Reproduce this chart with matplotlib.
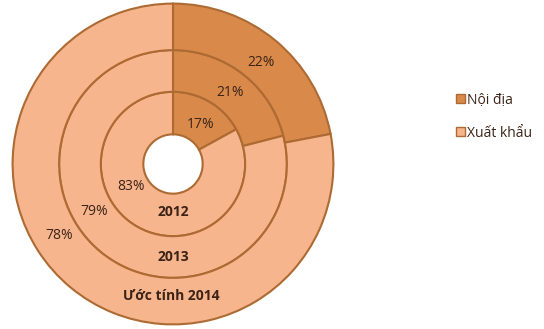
import numpy as np
import matplotlib.pyplot as plt
from matplotlib.patches import Patch

plt.rcParams['font.family'] = ['Open Sans', 'DejaVu Sans']

categories = ['Nội địa', 'Xuất khẩu']
years = ['2012', '2013', 'Ước tính 2014']
noi_dia = [17, 21, 22]
xuat_khau = [83, 79, 78]

dark = '#d98a4b'
light = '#f7b58e'
edge = '#ad6a32'
txt = '#3b2317'

fig = plt.figure(figsize=(5.44, 3.29), dpi=100)
# pie centre ~ (173, 164) px, outer radius ~ 162 px
cx, cy, R = 173, 164, 162
ax = fig.add_axes([(cx - R) / 544, (329 - cy - R) / 329, 2 * R / 544, 2 * R / 329])

radii = [0.45, 0.71, 1.0]
inner = [0.185, 0.45, 0.71]
for i in range(3):
    ax.pie([noi_dia[i], xuat_khau[i]], radius=radii[i], startangle=90, counterclock=False,
           colors=[dark, light],
           wedgeprops=dict(width=radii[i] - inner[i], edgecolor=edge, linewidth=1.5))

ax.set_xlim(-1.01, 1.01)
ax.set_ylim(-1.01, 1.01)
ax.set_aspect('auto')

# label positions per ring (radius, angle)
lab_r = [0.30, 0.57, 0.84]
nd_ang = [55, 51, 49]
xk_ang = [208, 211, 212]
year_r = [0.30, 0.58, 0.82]
for i in range(3):
    a = np.deg2rad(nd_ang[i])
    ax.text(lab_r[i] * np.cos(a), lab_r[i] * np.sin(a), f'{noi_dia[i]}%',
            ha='center', va='center', fontsize=10, color=txt)
    a = np.deg2rad(xk_ang[i])
    ax.text(lab_r[i] * np.cos(a), lab_r[i] * np.sin(a), f'{xuat_khau[i]}%',
            ha='center', va='center', fontsize=10, color=txt)
    ax.text(-0.01 if i == 2 else 0, -year_r[i], years[i], ha='center', va='center',
            fontsize=10, fontweight='bold', color=txt)

handles = [Patch(facecolor=dark, edgecolor=edge, linewidth=1.0),
           Patch(facecolor=light, edgecolor=edge, linewidth=1.0)]
fig.legend(handles, categories, loc='upper left', bbox_to_anchor=(443 / 544, 1 - 80 / 329),
           frameon=False, handlelength=0.65, handleheight=0.65, handletextpad=0.2,
           labelspacing=1.3, fontsize=10, labelcolor=txt)

plt.savefig('out.png', dpi=100)
